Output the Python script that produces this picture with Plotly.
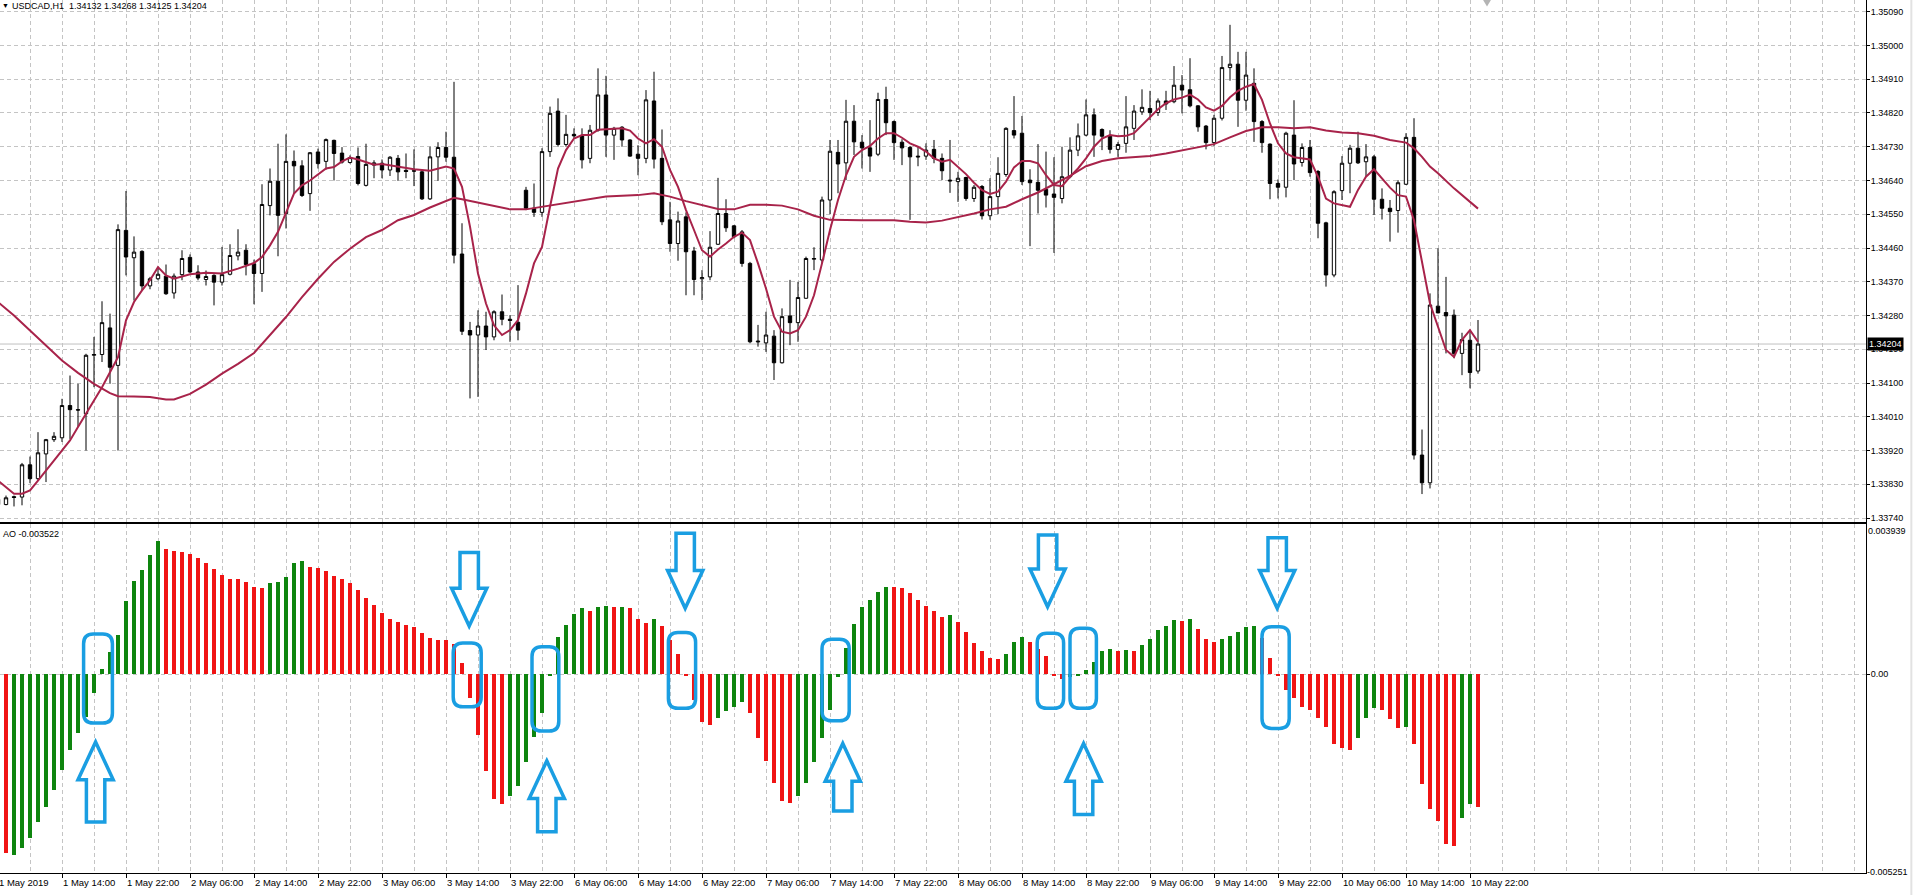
import plotly.graph_objects as go

# hourly bars, 1 May 2019 06:00 .. 10 May 2019 23:00 (weekend removed)
bars = list(range(186))

opens = [1.33790, 1.33776, 1.33797, 1.33796, 1.33882, 1.33845, 1.33911, 1.33949, 1.33954, 1.34040,
         1.34029, 1.34018, 1.34174, 1.34176, 1.34247, 1.34147, 1.34507, 1.34434, 1.34451, 1.34359,
         1.34378, 1.34385, 1.34340, 1.34389, 1.34435, 1.34396, 1.34376, 1.34387, 1.34369, 1.34390,
         1.34439, 1.34454, 1.34418, 1.34392, 1.34573, 1.34638, 1.34552, 1.34691, 1.34679, 1.34605,
         1.34716, 1.34691, 1.34747, 1.34713, 1.34688, 1.34704, 1.34627, 1.34681, 1.34686, 1.34668,
         1.34699, 1.34667, 1.34666, 1.34663, 1.34591, 1.34703, 1.34728, 1.34702, 1.34444, 1.34240,
         1.34228, 1.34252, 1.34223, 1.34290, 1.34270, 1.34262, 1.34614, 1.34566, 1.34555, 1.34717,
         1.34825, 1.34736, 1.34763, 1.34759, 1.34699, 1.34774, 1.34868, 1.34761, 1.34782, 1.34748,
         1.34710, 1.34699, 1.34852, 1.34699, 1.34535, 1.34472, 1.34543, 1.34452, 1.34378, 1.34383,
         1.34470, 1.34552, 1.34519, 1.34503, 1.34419, 1.34212, 1.34207, 1.34225, 1.34154, 1.34279,
         1.34261, 1.34326, 1.34430, 1.34428, 1.34588, 1.34715, 1.34687, 1.34798, 1.34742, 1.34727,
         1.34710, 1.34856, 1.34797, 1.34742, 1.34728, 1.34705, 1.34705, 1.34723, 1.34699, 1.34641,
         1.34637, 1.34648, 1.34592, 1.34624, 1.34546, 1.34597, 1.34656, 1.34773, 1.34766, 1.34641,
         1.34635, 1.34616, 1.34604, 1.34592, 1.34650, 1.34721, 1.34761, 1.34815, 1.34776, 1.34758,
         1.34723, 1.34739, 1.34779, 1.34823, 1.34832, 1.34821, 1.34852, 1.34850, 1.34894, 1.34882,
         1.34839, 1.34785, 1.34741, 1.34806, 1.34941, 1.34950, 1.34854, 1.34899, 1.34797, 1.34737,
         1.34632, 1.34622, 1.34761, 1.34688, 1.34728, 1.34664, 1.34527, 1.34388, 1.34613, 1.34686,
         1.34726, 1.34690, 1.34703, 1.34590, 1.34566, 1.34560, 1.34630, 1.34755, 1.33908, 1.33834,
         1.34305, 1.34288, 1.34281, 1.34179, 1.34214, 1.34132]
highs = [1.33808, 1.33800, 1.33800, 1.33887, 1.33904, 1.33969, 1.33951, 1.33969, 1.34058, 1.34120,
         1.34098, 1.34178, 1.34223, 1.34318, 1.34285, 1.34523, 1.34612, 1.34491, 1.34454, 1.34383,
         1.34409, 1.34416, 1.34392, 1.34454, 1.34443, 1.34414, 1.34400, 1.34390, 1.34463, 1.34470,
         1.34510, 1.34470, 1.34429, 1.34630, 1.34672, 1.34738, 1.34763, 1.34720, 1.34694, 1.34716,
         1.34725, 1.34752, 1.34749, 1.34729, 1.34707, 1.34728, 1.34738, 1.34694, 1.34696, 1.34705,
         1.34708, 1.34712, 1.34723, 1.34668, 1.34730, 1.34742, 1.34770, 1.34903, 1.34526, 1.34263,
         1.34294, 1.34290, 1.34294, 1.34336, 1.34281, 1.34361, 1.34623, 1.34632, 1.34726, 1.34837,
         1.34859, 1.34815, 1.34779, 1.34779, 1.34788, 1.34939, 1.34919, 1.34783, 1.34785, 1.34750,
         1.34734, 1.34881, 1.34930, 1.34776, 1.34583, 1.34557, 1.34555, 1.34463, 1.34401, 1.34505,
         1.34647, 1.34590, 1.34521, 1.34508, 1.34423, 1.34255, 1.34290, 1.34241, 1.34299, 1.34375,
         1.34370, 1.34437, 1.34462, 1.34597, 1.34748, 1.34748, 1.34855, 1.34841, 1.34761, 1.34801,
         1.34874, 1.34890, 1.34800, 1.34750, 1.34732, 1.34730, 1.34739, 1.34748, 1.34712, 1.34748,
         1.34663, 1.34650, 1.34628, 1.34628, 1.34646, 1.34702, 1.34782, 1.34865, 1.34812, 1.34670,
         1.34737, 1.34717, 1.34702, 1.34730, 1.34755, 1.34792, 1.34856, 1.34832, 1.34779, 1.34774,
         1.34743, 1.34865, 1.34841, 1.34883, 1.34879, 1.34859, 1.34879, 1.34945, 1.34921, 1.34966,
         1.34841, 1.34788, 1.34815, 1.34972, 1.35055, 1.34983, 1.34983, 1.34939, 1.34801, 1.34739,
         1.34643, 1.34770, 1.34854, 1.34739, 1.34748, 1.34668, 1.34530, 1.34614, 1.34705, 1.34735,
         1.34770, 1.34737, 1.34708, 1.34619, 1.34588, 1.34641, 1.34766, 1.34806, 1.33976, 1.34339,
         1.34459, 1.34383, 1.34296, 1.34234, 1.34237, 1.34268]
lows = [1.33762, 1.33774, 1.33771, 1.33774, 1.33833, 1.33840, 1.33836, 1.33943, 1.33943, 1.33951,
        1.33983, 1.33920, 1.34089, 1.34156, 1.34098, 1.33920, 1.34387, 1.34320, 1.34347, 1.34350,
        1.34374, 1.34335, 1.34325, 1.34374, 1.34393, 1.34374, 1.34360, 1.34307, 1.34360, 1.34387,
        1.34427, 1.34387, 1.34310, 1.34343, 1.34547, 1.34438, 1.34512, 1.34605, 1.34596, 1.34559,
        1.34672, 1.34669, 1.34640, 1.34685, 1.34685, 1.34627, 1.34624, 1.34646, 1.34646, 1.34652,
        1.34639, 1.34646, 1.34625, 1.34588, 1.34588, 1.34639, 1.34690, 1.34419, 1.34228, 1.34059,
        1.34063, 1.34188, 1.34214, 1.34254, 1.34210, 1.34214, 1.34561, 1.34543, 1.34543, 1.34703,
        1.34730, 1.34730, 1.34752, 1.34672, 1.34686, 1.34770, 1.34703, 1.34695, 1.34730, 1.34703,
        1.34654, 1.34686, 1.34672, 1.34521, 1.34450, 1.34426, 1.34334, 1.34334, 1.34321, 1.34374,
        1.34468, 1.34503, 1.34486, 1.34410, 1.34206, 1.34197, 1.34183, 1.34108, 1.34152, 1.34201,
        1.34210, 1.34325, 1.34401, 1.34419, 1.34550, 1.34606, 1.34641, 1.34708, 1.34672, 1.34663,
        1.34705, 1.34761, 1.34695, 1.34681, 1.34535, 1.34678, 1.34695, 1.34686, 1.34641, 1.34607,
        1.34583, 1.34586, 1.34583, 1.34536, 1.34535, 1.34550, 1.34650, 1.34752, 1.34628, 1.34465,
        1.34552, 1.34568, 1.34447, 1.34579, 1.34646, 1.34705, 1.34758, 1.34703, 1.34721, 1.34712,
        1.34703, 1.34714, 1.34748, 1.34815, 1.34801, 1.34812, 1.34828, 1.34846, 1.34819, 1.34835,
        1.34770, 1.34723, 1.34732, 1.34800, 1.34906, 1.34783, 1.34826, 1.34743, 1.34714, 1.34590,
        1.34592, 1.34595, 1.34641, 1.34677, 1.34650, 1.34486, 1.34357, 1.34382, 1.34588, 1.34606,
        1.34684, 1.34650, 1.34548, 1.34536, 1.34477, 1.34501, 1.34628, 1.33896, 1.33804, 1.33819,
        1.34286, 1.34179, 1.34166, 1.34121, 1.34086, 1.34125]
closes = [1.33776, 1.33794, 1.33795, 1.33882, 1.33845, 1.33914, 1.33949, 1.33958, 1.34040, 1.34029,
          1.34028, 1.34174, 1.34176, 1.34261, 1.34142, 1.34509, 1.34436, 1.34449, 1.34359, 1.34378,
          1.34390, 1.34338, 1.34385, 1.34432, 1.34396, 1.34380, 1.34384, 1.34369, 1.34389, 1.34440,
          1.34449, 1.34416, 1.34392, 1.34576, 1.34638, 1.34547, 1.34691, 1.34679, 1.34600, 1.34714,
          1.34685, 1.34749, 1.34712, 1.34689, 1.34701, 1.34632, 1.34683, 1.34687, 1.34668, 1.34702,
          1.34663, 1.34664, 1.34665, 1.34591, 1.34703, 1.34728, 1.34702, 1.34441, 1.34238, 1.34228,
          1.34252, 1.34223, 1.34290, 1.34270, 1.34267, 1.34241, 1.34566, 1.34555, 1.34717, 1.34819,
          1.34736, 1.34763, 1.34759, 1.34695, 1.34774, 1.34868, 1.34761, 1.34779, 1.34748, 1.34705,
          1.34699, 1.34855, 1.34697, 1.34530, 1.34472, 1.34532, 1.34450, 1.34376, 1.34381, 1.34462,
          1.34552, 1.34514, 1.34490, 1.34419, 1.34210, 1.34210, 1.34228, 1.34154, 1.34277, 1.34261,
          1.34328, 1.34432, 1.34432, 1.34588, 1.34718, 1.34684, 1.34798, 1.34743, 1.34727, 1.34705,
          1.34856, 1.34794, 1.34741, 1.34727, 1.34703, 1.34703, 1.34721, 1.34699, 1.34666, 1.34639,
          1.34646, 1.34592, 1.34622, 1.34546, 1.34597, 1.34659, 1.34779, 1.34761, 1.34637, 1.34634,
          1.34614, 1.34601, 1.34595, 1.34650, 1.34721, 1.34759, 1.34815, 1.34761, 1.34758, 1.34723,
          1.34736, 1.34783, 1.34825, 1.34835, 1.34821, 1.34852, 1.34844, 1.34894, 1.34881, 1.34839,
          1.34783, 1.34741, 1.34806, 1.34941, 1.34950, 1.34854, 1.34921, 1.34797, 1.34741, 1.34632,
          1.34622, 1.34766, 1.34684, 1.34728, 1.34661, 1.34526, 1.34388, 1.34610, 1.34686, 1.34726,
          1.34687, 1.34703, 1.34590, 1.34566, 1.34557, 1.34634, 1.34755, 1.33908, 1.33834, 1.34308,
          1.34287, 1.34279, 1.34179, 1.34216, 1.34128, 1.34204]

# moving averages, read at the bars where the lines could be traced
fast_x = [0, 2, 3, 4, 5, 7, 9, 10, 11, 13, 14, 15, 16, 17, 18, 19, 20, 21, 22, 24, 26, 28, 30, 32, 33, 34,
          35, 36, 37, 38, 39, 41, 42, 43, 44, 45, 46, 47, 48, 50, 52, 54, 56, 57, 58, 59, 60, 61, 62, 63,
          64, 65, 66, 67, 68, 69, 70, 71, 72, 73, 74, 75, 76, 78, 79, 80, 81, 82, 83, 84, 85, 86, 87, 88,
          89, 90, 91, 92, 93, 94, 95, 96, 97, 98, 99, 100, 101, 102, 103, 104, 105, 106, 107, 108, 109,
          110, 111, 112, 113, 114, 115, 116, 117, 118, 119, 120, 121, 122, 123, 124, 125, 126, 127, 128,
          129, 130, 131, 132, 133, 134, 135, 136, 137, 138, 139, 140, 141, 142, 143, 144, 145, 146, 147,
          148, 149, 150, 151, 152, 153, 154, 155, 156, 157, 158, 159, 160, 161, 162, 163, 164, 165, 166,
          167, 168, 169, 170, 171, 172, 173, 174, 175, 176, 177, 178, 179, 180, 181, 182, 183, 184, 185]
fast_ma = [1.33840, 1.33805, 1.33805, 1.33814, 1.33840, 1.33894, 1.33947, 1.33983, 1.34018, 1.34089,
           1.34129, 1.34169, 1.34267, 1.34316, 1.34347, 1.34374, 1.34409, 1.34387, 1.34378, 1.34390,
           1.34394, 1.34392, 1.34405, 1.34420, 1.34436, 1.34467, 1.34503, 1.34556, 1.34605, 1.34627,
           1.34640, 1.34672, 1.34676, 1.34691, 1.34701, 1.34696, 1.34689, 1.34682, 1.34684, 1.34677,
           1.34670, 1.34666, 1.34677, 1.34672, 1.34623, 1.34517, 1.34392, 1.34312, 1.34254, 1.34228,
           1.34241, 1.34268, 1.34339, 1.34419, 1.34463, 1.34570, 1.34672, 1.34721, 1.34752, 1.34761,
           1.34761, 1.34775, 1.34776, 1.34779, 1.34773, 1.34752, 1.34739, 1.34750, 1.34730, 1.34668,
           1.34623, 1.34561, 1.34508, 1.34454, 1.34437, 1.34456, 1.34472, 1.34490, 1.34501, 1.34481,
           1.34419, 1.34352, 1.34277, 1.34237, 1.34232, 1.34241, 1.34277, 1.34334, 1.34419, 1.34508,
           1.34588, 1.34654, 1.34703, 1.34721, 1.34732, 1.34752, 1.34766, 1.34766, 1.34754, 1.34739,
           1.34730, 1.34717, 1.34699, 1.34690, 1.34695, 1.34677, 1.34657, 1.34634, 1.34614, 1.34604,
           1.34610, 1.34637, 1.34675, 1.34692, 1.34692, 1.34686, 1.34654, 1.34628, 1.34625, 1.34650,
           1.34672, 1.34699, 1.34730, 1.34752, 1.34761, 1.34758, 1.34759, 1.34766, 1.34788, 1.34810,
           1.34830, 1.34846, 1.34856, 1.34861, 1.34869, 1.34856, 1.34835, 1.34826, 1.34839, 1.34862,
           1.34879, 1.34890, 1.34897, 1.34855, 1.34792, 1.34739, 1.34712, 1.34702, 1.34699, 1.34696,
           1.34650, 1.34592, 1.34579, 1.34574, 1.34570, 1.34615, 1.34650, 1.34670, 1.34646, 1.34621,
           1.34601, 1.34597, 1.34534, 1.34419, 1.34312, 1.34250, 1.34188, 1.34170, 1.34215, 1.34241,
           1.34210]

slow_x = [0, 2, 4, 6, 8, 10, 12, 14, 15, 17, 19, 21, 22, 24, 26, 28, 30, 32, 34, 36, 38, 40, 42, 44, 46,
          48, 50, 52, 54, 56, 57, 58, 60, 62, 64, 66, 68, 70, 72, 74, 76, 78, 80, 82, 84, 86, 88, 90, 92,
          94, 96, 98, 100, 102, 104, 106, 108, 110, 112, 114, 116, 118, 120, 122, 124, 126, 128, 130, 132,
          134, 136, 138, 140, 142, 144, 146, 148, 150, 152, 154, 156, 158, 160, 162, 164, 166, 168, 170,
          172, 174, 176, 177, 178, 179, 180, 182, 184, 185]
slow_ma = [1.34316, 1.34280, 1.34240, 1.34200, 1.34160, 1.34127, 1.34098, 1.34073, 1.34065, 1.34064,
           1.34063, 1.34056, 1.34056, 1.34071, 1.34096, 1.34125, 1.34151, 1.34180, 1.34227, 1.34276,
           1.34329, 1.34378, 1.34423, 1.34458, 1.34489, 1.34508, 1.34534, 1.34548, 1.34568, 1.34586,
           1.34594, 1.34590, 1.34581, 1.34574, 1.34563, 1.34563, 1.34570, 1.34577, 1.34585, 1.34591,
           1.34597, 1.34599, 1.34601, 1.34606, 1.34597, 1.34585, 1.34575, 1.34564, 1.34563, 1.34575,
           1.34575, 1.34573, 1.34563, 1.34546, 1.34535, 1.34534, 1.34534, 1.34534, 1.34534, 1.34530,
           1.34528, 1.34533, 1.34542, 1.34552, 1.34563, 1.34570, 1.34590, 1.34608, 1.34630, 1.34652,
           1.34678, 1.34692, 1.34699, 1.34702, 1.34705, 1.34712, 1.34721, 1.34728, 1.34737, 1.34755,
           1.34772, 1.34782, 1.34782, 1.34779, 1.34782, 1.34773, 1.34768, 1.34766, 1.34759, 1.34748,
           1.34741, 1.34726, 1.34703, 1.34677, 1.34659, 1.34619, 1.34583, 1.34565]

# Awesome Oscillator histogram and its bar colours (G = up bar, R = down bar)
ao = [-0.00470, -0.00475, -0.00478, -0.00462, -0.00433, -0.00391, -0.00351, -0.00306, -0.00253, -0.00201,
      -0.00157, -0.00113, -0.00051, 0.00012, 0.00057, 0.00103, 0.00193, 0.00246, 0.00276, 0.00315,
      0.00352, 0.00331, 0.00327, 0.00323, 0.00318, 0.00308, 0.00293, 0.00278, 0.00262, 0.00252,
      0.00251, 0.00244, 0.00231, 0.00227, 0.00242, 0.00243, 0.00256, 0.00293, 0.00299, 0.00283,
      0.00280, 0.00274, 0.00260, 0.00251, 0.00242, 0.00223, 0.00202, 0.00182, 0.00161, 0.00146,
      0.00139, 0.00130, 0.00124, 0.00108, 0.00096, 0.00090, 0.00089, 0.00079, 0.00028, -0.00064,
      -0.00162, -0.00256, -0.00332, -0.00344, -0.00323, -0.00297, -0.00232, -0.00168, -0.00102, -0.00003,
      0.00097, 0.00130, 0.00158, 0.00174, 0.00168, 0.00177, 0.00180, 0.00177, 0.00178, 0.00174,
      0.00146, 0.00134, 0.00145, 0.00127, 0.00090, 0.00053, -0.00004, -0.00069, -0.00126, -0.00135,
      -0.00116, -0.00097, -0.00087, -0.00073, -0.00102, -0.00169, -0.00231, -0.00288, -0.00336, -0.00341,
      -0.00322, -0.00288, -0.00232, -0.00169, -0.00094, -0.00007, 0.00070, 0.00132, 0.00178, 0.00196,
      0.00216, 0.00231, 0.00230, 0.00227, 0.00214, 0.00196, 0.00180, 0.00167, 0.00152, 0.00156,
      0.00137, 0.00110, 0.00083, 0.00061, 0.00042, 0.00040, 0.00053, 0.00084, 0.00097, 0.00084,
      0.00066, 0.00048, -0.00005, -0.00012, -0.00009, -0.00005, 0.00011, 0.00032, 0.00061, 0.00065,
      0.00061, 0.00063, 0.00061, 0.00077, 0.00094, 0.00117, 0.00127, 0.00143, 0.00140, 0.00147,
      0.00119, 0.00092, 0.00086, 0.00093, 0.00101, 0.00110, 0.00125, 0.00128, 0.00095, 0.00043,
      -0.00004, -0.00042, -0.00064, -0.00087, -0.00095, -0.00116, -0.00140, -0.00186, -0.00197, -0.00200,
      -0.00170, -0.00116, -0.00089, -0.00095, -0.00119, -0.00144, -0.00141, -0.00185, -0.00292, -0.00358,
      -0.00389, -0.00451, -0.00455, -0.00381, -0.00343, -0.003522]
ao_dir = ("RRGGGGGGGG" "GGGGGGGGGG" "GRRRRRRRRR" "RRRRGGGGGR" "RRRRRRRRRR"
          "RRRRRRRRRR" "RRRRGGGGGG" "GGGGRGGRGR" "RRGRRRRRRR" "GGGGRRRRRR"
          "GGGGGGGGGG" "GGRRRRRRRG" "RRRRRRGGGR" "RRRRGGGGGG" "RGRGGGGGRG"
          "RRRGGGGGRR" "RRRRRRRRRR" "GGGRRRGRRR" "RRRGGR")

price_ticks = [1.33740, 1.33830, 1.33920, 1.34010, 1.34100, 1.34190, 1.34280, 1.34370,
               1.34460, 1.34550, 1.34640, 1.34730, 1.34820, 1.34910, 1.35000, 1.35090]
date_ticks = [0, 8, 16, 24, 32, 40, 48, 56, 64, 72, 80, 88, 96, 104, 112, 120, 128, 136, 144, 152,
              160, 168, 176, 184]
date_labels = ["1 May 2019", "1 May 14:00", "1 May 22:00", "2 May 06:00", "2 May 14:00", "2 May 22:00",
               "3 May 06:00", "3 May 14:00", "3 May 22:00", "6 May 06:00", "6 May 14:00", "6 May 22:00",
               "7 May 06:00", "7 May 14:00", "7 May 22:00", "8 May 06:00", "8 May 14:00", "8 May 22:00",
               "9 May 06:00", "9 May 14:00", "9 May 22:00", "10 May 06:00", "10 May 14:00", "10 May 22:00"]
last_price = 1.34204
ao_top, ao_bottom = 0.003939, -0.005251

MA_COL = "#a8234a"
BLUE = "#1a9ee2"
GRID = "#c4c4c4"
DASH = "4px,3px"
FONT = "Liberation Sans"
X0 = 0.25  # first bar index at the left edge of the chart

fig = go.Figure()
fig.add_trace(go.Candlestick(
    x=bars, open=opens, high=highs, low=lows, close=closes,
    increasing=dict(line=dict(color="black", width=1), fillcolor="white"),
    decreasing=dict(line=dict(color="black", width=1), fillcolor="black"),
    whiskerwidth=0, hoverinfo="skip", showlegend=False, xaxis="x", yaxis="y"))
fig.add_trace(go.Scatter(x=slow_x, y=slow_ma, mode="lines", line=dict(color=MA_COL, width=2),
                         hoverinfo="skip", showlegend=False, xaxis="x", yaxis="y"))
fig.add_trace(go.Scatter(x=fast_x, y=fast_ma, mode="lines", line=dict(color=MA_COL, width=2),
                         hoverinfo="skip", showlegend=False, xaxis="x", yaxis="y"))
fig.add_trace(go.Bar(
    x=bars, y=ao, width=0.5,
    marker=dict(color=["#0e850e" if d == "G" else "#f01414" for d in ao_dir], line=dict(width=0)),
    hoverinfo="skip", showlegend=False, xaxis="x2", yaxis="y2"))

xgrid = dict(range=[X0, 233.5], tickmode="array", tickvals=date_ticks, showgrid=True,
             gridcolor=GRID, griddash=DASH, gridwidth=1, zeroline=False,
             minor=dict(tickmode="linear", tick0=0, dtick=4, showgrid=True, gridcolor=GRID,
                        griddash=DASH, gridwidth=1, ticks=""),
             showline=True, linecolor="black", linewidth=1)

fig.update_layout(
    width=1915, height=895,
    margin=dict(l=0, r=49, t=0, b=22),
    paper_bgcolor="white", plot_bgcolor="white",
    font=dict(family=FONT, size=9, color="black"),
    boxgap=0.4, bargap=0, showlegend=False,
    xaxis=dict(xgrid, domain=[0, 1], anchor="y", showticklabels=False, ticks="",
               rangeslider=dict(visible=False)),
    yaxis=dict(domain=[0.40206, 1], anchor="x", side="right", range=[1.337295, 1.351212],
               tickmode="array", tickvals=price_ticks, tickformat=".5f", ticks="outside",
               ticklen=3, tickcolor="black", ticklabelstandoff=-1, showgrid=True, gridcolor=GRID,
               griddash=DASH, zeroline=False, showline=True, linecolor="black", linewidth=1,
               tickfont=dict(size=9)),
    xaxis2=dict(xgrid, domain=[0, 1], anchor="y2", matches="x", showticklabels=False,
                ticks="outside", ticklen=4, tickcolor="black", mirror=True),
    yaxis2=dict(domain=[0, 0.39977], anchor="x2", side="right", range=[-0.005270, 0.003973],
                tickmode="array", tickvals=[0], ticktext=["0.00"], ticks="outside", ticklen=3,
                tickcolor="black", ticklabelstandoff=-1, showgrid=True, gridcolor=GRID,
                griddash=DASH, zeroline=False, showline=True, linecolor="black", linewidth=1,
                tickfont=dict(size=9)),
)

ann = []
for i, t in zip(date_ticks, date_labels):
    # the first label sits left of the visible range, so anchor it at the edge and shift it
    xi = max(i, X0)
    shift = -1 - (xi - i) * 8
    ann.append(dict(x=xi, y=0, xref="x2", yref="paper", text=t, showarrow=False, xanchor="left",
                    yanchor="top", xshift=shift, yshift=-2, font=dict(size=9.5)))
ann.append(dict(x=0, y=1, xref="paper", yref="paper", text="▼", showarrow=False, xanchor="left",
                yanchor="top", xshift=0, yshift=0, font=dict(size=7)))
ann.append(dict(x=0, y=1, xref="paper", yref="paper",
                text="USDCAD,H1  1.34132 1.34268 1.34125 1.34204", showarrow=False,
                xanchor="left", yanchor="top", xshift=10, yshift=1, font=dict(size=9)))
ann.append(dict(x=0, y=0.39977, xref="paper", yref="paper", text="AO -0.003522", showarrow=False,
                xanchor="left", yanchor="top", xshift=1, yshift=-3, font=dict(size=9)))
ann.append(dict(x=1, y=ao_top, xref="paper", yref="y2", text=f"{ao_top:.6f}", showarrow=False,
                xanchor="left", yanchor="top", xshift=0, yshift=1, font=dict(size=9)))
ann.append(dict(x=1, y=ao_bottom, xref="paper", yref="y2", text=f"{ao_bottom:.6f}", showarrow=False,
                xanchor="left", yanchor="middle", xshift=-1, font=dict(size=9)))
ann.append(dict(x=1, y=last_price, xref="paper", yref="y", text=f"{last_price:.5f}", showarrow=False,
                xanchor="left", yanchor="middle", xshift=1, bgcolor="black", borderpad=1,
                font=dict(size=9, color="white")))
fig.update_layout(annotations=ann)

shapes = [
    dict(type="line", xref="x", yref="y", x0=X0, x1=233.5, y0=last_price, y1=last_price,
         line=dict(color="#c0c0c0", width=1), layer="below"),
    dict(type="path", xref="paper", yref="paper",
         path="M 0.7948,1 L 0.7990,1 L 0.7969,0.9925 Z", fillcolor="#b4b4b4", line=dict(width=0)),
    dict(type="line", xref="paper", yref="paper", x0=1.0243, x1=1.0243, y0=-0.03, y1=1.01,
         line=dict(color="#e2e2e2", width=2)),
]

# highlighted zero-line crosses: boxes around the bars and the arrows pointing at them
boxes = [(10.7, 14.3, 0.00106, -0.00130), (56.9, 60.4, 0.00082, -0.00087),
         (66.75, 70.1, 0.00072, -0.00151), (83.8, 87.2, 0.00110, -0.00091),
         (103.0, 106.4, 0.00092, -0.00124), (129.9, 133.2, 0.00108, -0.00091),
         (134.0, 137.3, 0.00121, -0.00091), (158.0, 161.4, 0.00125, -0.00144)]
arrows = [(12.2, -0.00180, -0.00392), (68.6, -0.00230, -0.00418), (105.6, -0.00184, -0.00363),
          (135.7, -0.00184, -0.00372), (58.9, 0.00127, 0.00322), (85.9, 0.00174, 0.00373),
          (131.2, 0.00178, 0.00368), (159.9, 0.00174, 0.00361)]

rx, ry = 1.2, 0.00026
for x0, x1, top, bot in boxes:
    p = (f"M {x0 + rx},{top} L {x1 - rx},{top} Q {x1},{top} {x1},{top - ry} "
         f"L {x1},{bot + ry} Q {x1},{bot} {x1 - rx},{bot} L {x0 + rx},{bot} "
         f"Q {x0},{bot} {x0},{bot + ry} L {x0},{top - ry} Q {x0},{top} {x0 + rx},{top} Z")
    shapes.append(dict(type="path", xref="x2", yref="y2", path=p, line=dict(color=BLUE, width=3.5),
                       fillcolor="rgba(0,0,0,0)", layer="above"))

hw, sw, head = 2.2, 1.15, 0.00100
for xc, tip, tail in arrows:
    s = 1 if tip > tail else -1
    hb = tip - s * head
    p = (f"M {xc},{tip} L {xc + hw},{hb} L {xc + sw},{hb} L {xc + sw},{tail} "
         f"L {xc - sw},{tail} L {xc - sw},{hb} L {xc - hw},{hb} Z")
    shapes.append(dict(type="path", xref="x2", yref="y2", path=p, line=dict(color=BLUE, width=3.5),
                       fillcolor="rgba(0,0,0,0)", layer="above"))

fig.update_layout(shapes=shapes)

# the page body has a default 8px margin; drop it so the chart fills the window like the terminal
fig.write_html("out.html", config={"displayModeBar": False},
               post_script="document.body.style.margin='0';")
